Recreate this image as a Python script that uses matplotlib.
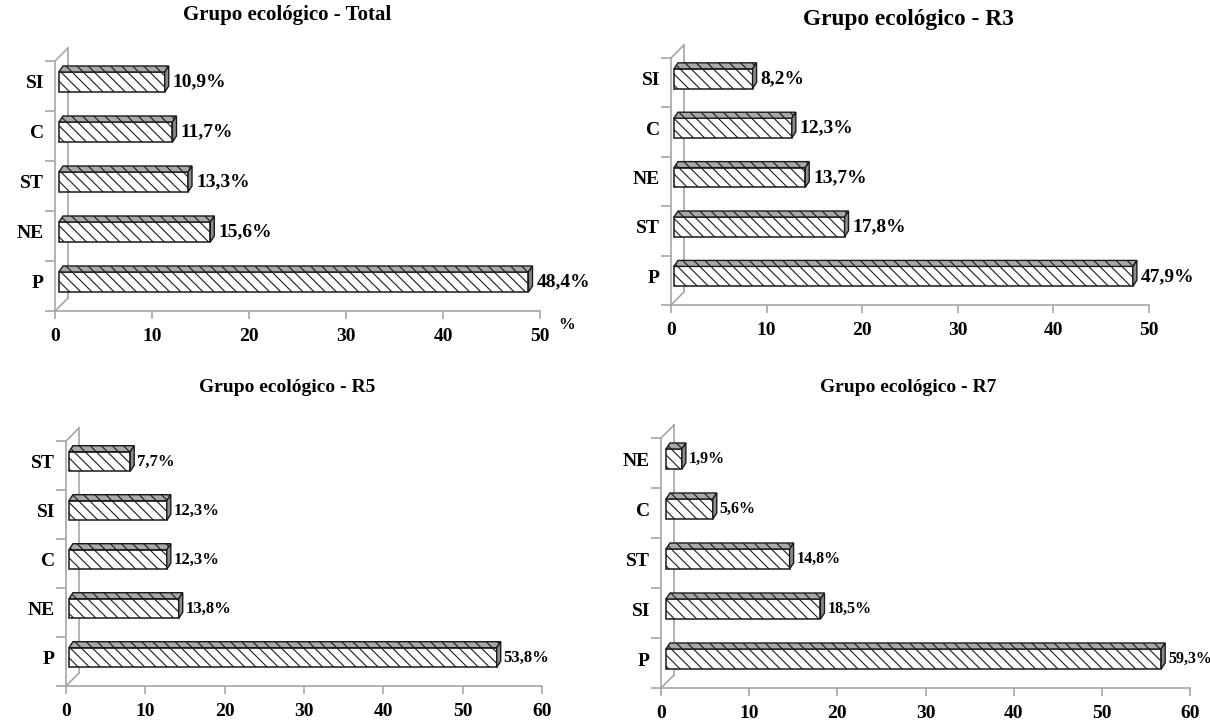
import matplotlib
matplotlib.use("Agg")
import matplotlib.pyplot as plt
from matplotlib.patches import Polygon, Rectangle
from matplotlib.transforms import ScaledTranslation

plt.rcParams['font.family'] = ['Liberation Serif', 'DejaVu Serif']
plt.rcParams['font.weight'] = 'bold'
plt.rcParams['hatch.linewidth'] = 0.8

# data (bottom to top)
total_cats = ['P', 'NE', 'ST', 'C', 'SI']
total_vals = [48.4, 15.6, 13.3, 11.7, 10.9]
r3_cats = ['P', 'ST', 'NE', 'C', 'SI']
r3_vals = [47.9, 17.8, 13.7, 12.3, 8.2]
r5_cats = ['P', 'NE', 'C', 'SI', 'ST']
r5_vals = [53.8, 13.8, 12.3, 12.3, 7.7]
r7_cats = ['P', 'SI', 'ST', 'C', 'NE']
r7_vals = [59.3, 18.5, 14.8, 5.6, 1.9]

W, H = 1210, 722
GRAY = '#a6a6a6'

# title, cats, vals, xmax, axis box (x0, x1, ytop, ybot) px, bar box (x0, x1) px,
# title (x, y, size), value label size
panels = [
    ('Grupo ecológico - Total', total_cats, total_vals, 50, (55, 540, 61, 311), (59, 544),
     (287, 15, 15), 14),
    ('Grupo ecológico - R3', r3_cats, r3_vals, 50, (671, 1149, 58, 305), (674, 1153),
     (908, 20, 16.8), 14),
    ('Grupo ecológico - R5', r5_cats, r5_vals, 60, (66, 542, 441, 686), (69, 546),
     (287, 387, 14), 12),
    ('Grupo ecológico - R7', r7_cats, r7_vals, 60, (661, 1190, 438, 688), (666, 1167),
     (908, 387, 14), 11.5),
]

fig = plt.figure(figsize=(W / 100, H / 100), dpi=100)

for title, cats, vals, xmax, (x0, x1, yt, yb), (b0, b1), (tx, ty, ts), vs in panels:
    n = len(cats)
    box = [x0 / W, (H - yb) / H, (x1 - x0) / W, (yb - yt) / H]
    ax = fig.add_axes(box)
    ax.set_xlim(0, xmax)
    ax.set_ylim(-0.5, n - 0.5)
    px = xmax / (x1 - x0)
    py = n / (yb - yt)

    # 3d wall lines
    wx, wy = 13 * px, 13 * py
    kw = dict(color=GRAY, lw=1.2, clip_on=False)
    ax.plot([0, wx], [n - 0.5, n - 0.5 + wy], **kw)
    ax.plot([0, wx], [-0.5, -0.5 + wy], **kw)
    ax.plot([wx, wx], [-0.5 + wy, n - 0.5 + wy], **kw)

    # axes styling
    for s in ['top', 'right']:
        ax.spines[s].set_visible(False)
    for s in ['left', 'bottom']:
        ax.spines[s].set_color(GRAY)
        ax.spines[s].set_linewidth(1.2)
    ax.set_xticks(range(0, xmax + 1, 10))
    ax.tick_params(axis='x', length=6, color=GRAY, width=1.2, pad=6, labelsize=14)
    ax.set_yticks(range(n))
    ax.set_yticklabels(cats)
    ax.set_yticks([k - 0.5 for k in range(n + 1)], minor=True)
    ax.tick_params(axis='y', which='major', length=0, pad=8, labelsize=14)
    ax.tick_params(axis='y', which='minor', length=7, color=GRAY, width=1.2)
    for lab in ax.get_yticklabels():
        lab.set_transform(lab.get_transform() + ScaledTranslation(0, 4 / 100, fig.dpi_scale_trans))
    ax.set_facecolor('none')

    if 'Total' in title:
        ax.text(xmax + 27 * px, -0.5 - 14 * py, '%', ha='center', va='center',
                fontsize=12, fontweight='bold', clip_on=False)

    # bars on their own scale (3d bars sit a bit behind the floor edge)
    bax = fig.add_axes([b0 / W, box[1], (b1 - b0) / W, box[3]])
    bax.set_xlim(0, xmax)
    bax.set_ylim(-0.5, n - 0.5)
    bax.axis('off')
    qx = xmax / (b1 - b0)
    fy = 4 * py
    bx, by = 4 * qx, 6 * py
    h = 0.4
    for i, v in enumerate(vals):
        ya, yb2 = i - h / 2 + fy, i + h / 2 + fy
        bax.add_patch(Rectangle((0, ya), v, yb2 - ya, facecolor='white',
                                edgecolor='#1a1a1a', hatch='\\\\\\', lw=1.1, clip_on=False))
        bax.add_patch(Polygon([(0, yb2), (v, yb2), (v + bx, yb2 + by), (bx, yb2 + by)],
                              facecolor='#a8a8a8', edgecolor='#1a1a1a', hatch='\\\\\\',
                              lw=1.0, clip_on=False))
        bax.add_patch(Polygon([(v, ya), (v, yb2), (v + bx, yb2 + by), (v + bx, ya + by)],
                              facecolor='#8c8c8c', edgecolor='#1a1a1a', lw=1.0, clip_on=False))
        gap = 4 if vs >= 14 else 3
        bax.text(v + bx + gap * qx, i + fy, f'{v:.1f}%'.replace('.', ','),
                 ha='left', va='center', fontsize=vs, fontweight='bold', clip_on=False)

    fig.text(tx / W, 1 - ty / H, title, ha='center', va='center', fontsize=ts, fontweight='bold')

fig.savefig('out.png', dpi=100)
